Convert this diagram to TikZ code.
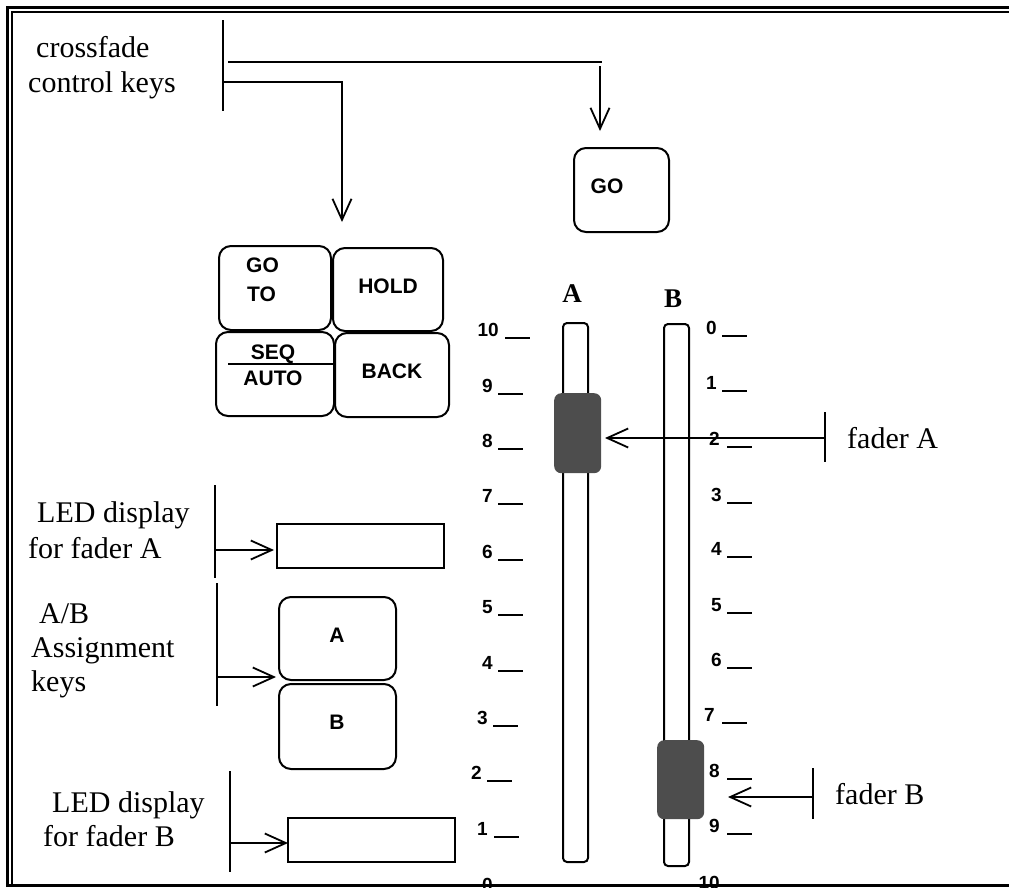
\documentclass[tikz,border=0pt]{standalone}
\usepackage{fontspec}
\setmainfont{Liberation Serif}
\setsansfont{Liberation Sans}
\usetikzlibrary{arrows.meta}
\definecolor{handlegray}{HTML}{4D4D4D}
\begin{document}
\begin{tikzpicture}[x=1pt,y=-1pt,
  lbl/.style={font=\fontsize{30}{34}\selectfont, anchor=base west, inner sep=0pt},
  fl/.style={font=\fontsize{27}{30}\selectfont\bfseries, anchor=base, inner sep=0pt},
  keytxt/.style={font=\fontsize{21}{24}\selectfont\sffamily\bfseries, inner sep=0pt},
  numtxt/.style={font=\fontsize{19}{22}\selectfont\sffamily\bfseries, anchor=base east, inner sep=0pt},
  keybox/.style={draw, line width=2pt, rounded corners=12pt, anchor=north west, inner sep=0pt},
  ledbox/.style={draw, line width=1.6pt, anchor=north west, inner sep=0pt},
  track/.style={draw, line width=2pt, rounded corners=4pt, anchor=north west, inner sep=0pt},
  handle/.style={fill=handlegray, rounded corners=7pt, anchor=north west, inner sep=0pt},
  bar/.style={line width=2.6pt},
  arr/.style={line width=1.8pt, -{Straight Barb[length=21pt,width=19pt,line width=1.8pt]}},
  tickln/.style={line width=2.2pt}
]
\useasboundingbox (0,0) rectangle (1009,887);
% border
\draw[line width=3pt] (7.5,887) -- (7.5,7.5) -- (1009,7.5);
\draw[line width=2pt] (11.5,884) -- (11.5,11.5) -- (1009,11.5);

% crossfade label
\node[lbl] (cf1) at (36,57) {crossfade};
\node[lbl] (cf2) at (28,92) {control keys};
\coordinate (cfT) at (223,20);
\coordinate (cfB) at (223,111);
\draw[bar] (cfT) -- (cfB);
\coordinate (h1s) at (228,62);
\coordinate (h1e) at (602,62);
\draw[bar] (h1s) -- (h1e);
\coordinate (goS) at (600,66);
\coordinate (goTip) at (600,131);
\draw[arr] (goS) -- (goTip);
\coordinate (h2s) at (223,82);
\coordinate (kbTip) at (342,222);
\draw[arr] (h2s) -| (kbTip);

% GO key
\node[keybox, minimum width=95pt, minimum height=84pt] (gokey) at (573,147) {};
\node[keytxt, anchor=base] (gotxt) at (607,193) {GO};

% key block
\node[keybox, minimum width=112pt, minimum height=84pt] (gotokey) at (218,245) {};
\node[keybox, minimum width=110pt, minimum height=83pt] (holdkey) at (332,247) {};
\node[keybox, minimum width=118pt, minimum height=84pt] (seqkey) at (215,331) {};
\node[keybox, minimum width=114pt, minimum height=84pt] (backkey) at (334,332) {};
\node[keytxt, anchor=base west] (gotxt1) at (246,272) {GO};
\node[keytxt, anchor=base west] (gotxt2) at (247,301) {TO};
\node[keytxt, anchor=base] (holdtxt) at (388,293) {HOLD};
\node[keytxt, anchor=base] (seqtxt) at (273,359) {SEQ};
\node[keytxt, anchor=base] (autotxt) at (273,385) {AUTO};
\coordinate (sqL) at (228,364);
\coordinate (sqR) at (335,364);
\draw[line width=1.6pt] (sqL) -- (sqR);
\node[keytxt, anchor=base] (backtxt) at (392,378) {BACK};

% LED display A
\node[lbl] (la1) at (37,522) {LED display};
\node[lbl] (la2) at (28,558) {for fader A};
\node[ledbox, minimum width=167pt, minimum height=44pt] (ledA) at (276,523) {};
\coordinate (laT) at (215,485);
\coordinate (laB) at (215,578);
\draw[bar] (laT) -- (laB);
\coordinate (laS) at (215,550);
\coordinate (laTip) at (274,550);
\draw[arr] (laS) -- (laTip);

% A/B assignment
\node[lbl] (ab1) at (39,623) {A/B};
\node[lbl] (ab2) at (31,657) {Assignment};
\node[lbl] (ab3) at (31,691) {keys};
\node[keybox, minimum width=117pt, minimum height=83pt] (akey) at (278,596) {};
\node[keybox, minimum width=117pt, minimum height=85pt] (bkey) at (278,683) {};
\node[keytxt, anchor=base] (atxt) at (337,642) {A};
\node[keytxt, anchor=base] (btxt) at (337,729) {B};
\coordinate (abT) at (217,583);
\coordinate (abB) at (217,706);
\draw[bar] (abT) -- (abB);
\coordinate (abS) at (217,677);
\coordinate (abTip) at (276,677);
\draw[arr] (abS) -- (abTip);

% LED display B
\node[lbl] (lb1) at (52,812) {LED display};
\node[lbl] (lb2) at (43,846) {for fader B};
\node[ledbox, minimum width=167pt, minimum height=44pt] (ledB) at (287,817) {};
\coordinate (lbT) at (230,771);
\coordinate (lbB) at (230,872);
\draw[bar] (lbT) -- (lbB);
\coordinate (lbS) at (230,843);
\coordinate (lbTip) at (288,843);
\draw[arr] (lbS) -- (lbTip);

% fader labels
\node[fl] (flA) at (572,302) {A};
\node[fl] (flB) at (673,307) {B};

% scales
\foreach \t/\y/\dx/\tx [count=\i] in {10/338/499/505, 9/394/493/498, 8/449/493/498, 7/504/493/498, 6/560/493/498, 5/615/493/498, 4/671/493/498, 3/726/488/493, 2/781/482/487, 1/837/488/494, 0/893/493/498}{
  \node[numtxt] (ln\i) at (\dx,\y-1.5) {\t};
  \draw[tickln] (\tx,\y) -- (\tx+25,\y);
}
\foreach \t/\y/\dx/\tx [count=\i] in {0/336/717/722, 1/391/717/722, 2/447/720/727, 3/503/722/727, 4/557/722/727, 5/613/722/727, 6/668/722/727, 7/723/715/722, 8/779/720/727, 9/834/720/727, 10/891/720/727}{
  \node[numtxt] (rn\i) at (\dx,\y-1.5) {\t};
  \draw[tickln] (\tx,\y) -- (\tx+25,\y);
}

% tracks and handles
\node[track, minimum width=25pt, minimum height=539pt] (trackA) at (562,322) {};
\node[track, minimum width=25pt, minimum height=542pt] (trackB) at (663,323) {};
\node[handle, minimum width=47pt, minimum height=80pt] (handleA) at (554,393) {};
\node[handle, minimum width=47pt, minimum height=79pt] (handleB) at (657,740) {};

% fader A pointer
\node[lbl] (faA) at (847,448) {fader A};
\coordinate (faT) at (825,412);
\coordinate (faB) at (825,462);
\draw[bar] (faT) -- (faB);
\coordinate (faS) at (825,438);
\coordinate (faTip) at (605,438);
\draw[arr] (faS) -- (faTip);
% fader B pointer
\node[lbl] (fbB) at (835,804) {fader B};
\coordinate (fbT) at (813,768);
\coordinate (fbBt) at (813,819);
\draw[bar] (fbT) -- (fbBt);
\coordinate (fbS) at (813,797);
\coordinate (fbTip) at (728,797);
\draw[arr] (fbS) -- (fbTip);

% bottom border
\draw[line width=3pt] (6,885.5) -- (1009,885.5);
\end{tikzpicture}
\end{document}
